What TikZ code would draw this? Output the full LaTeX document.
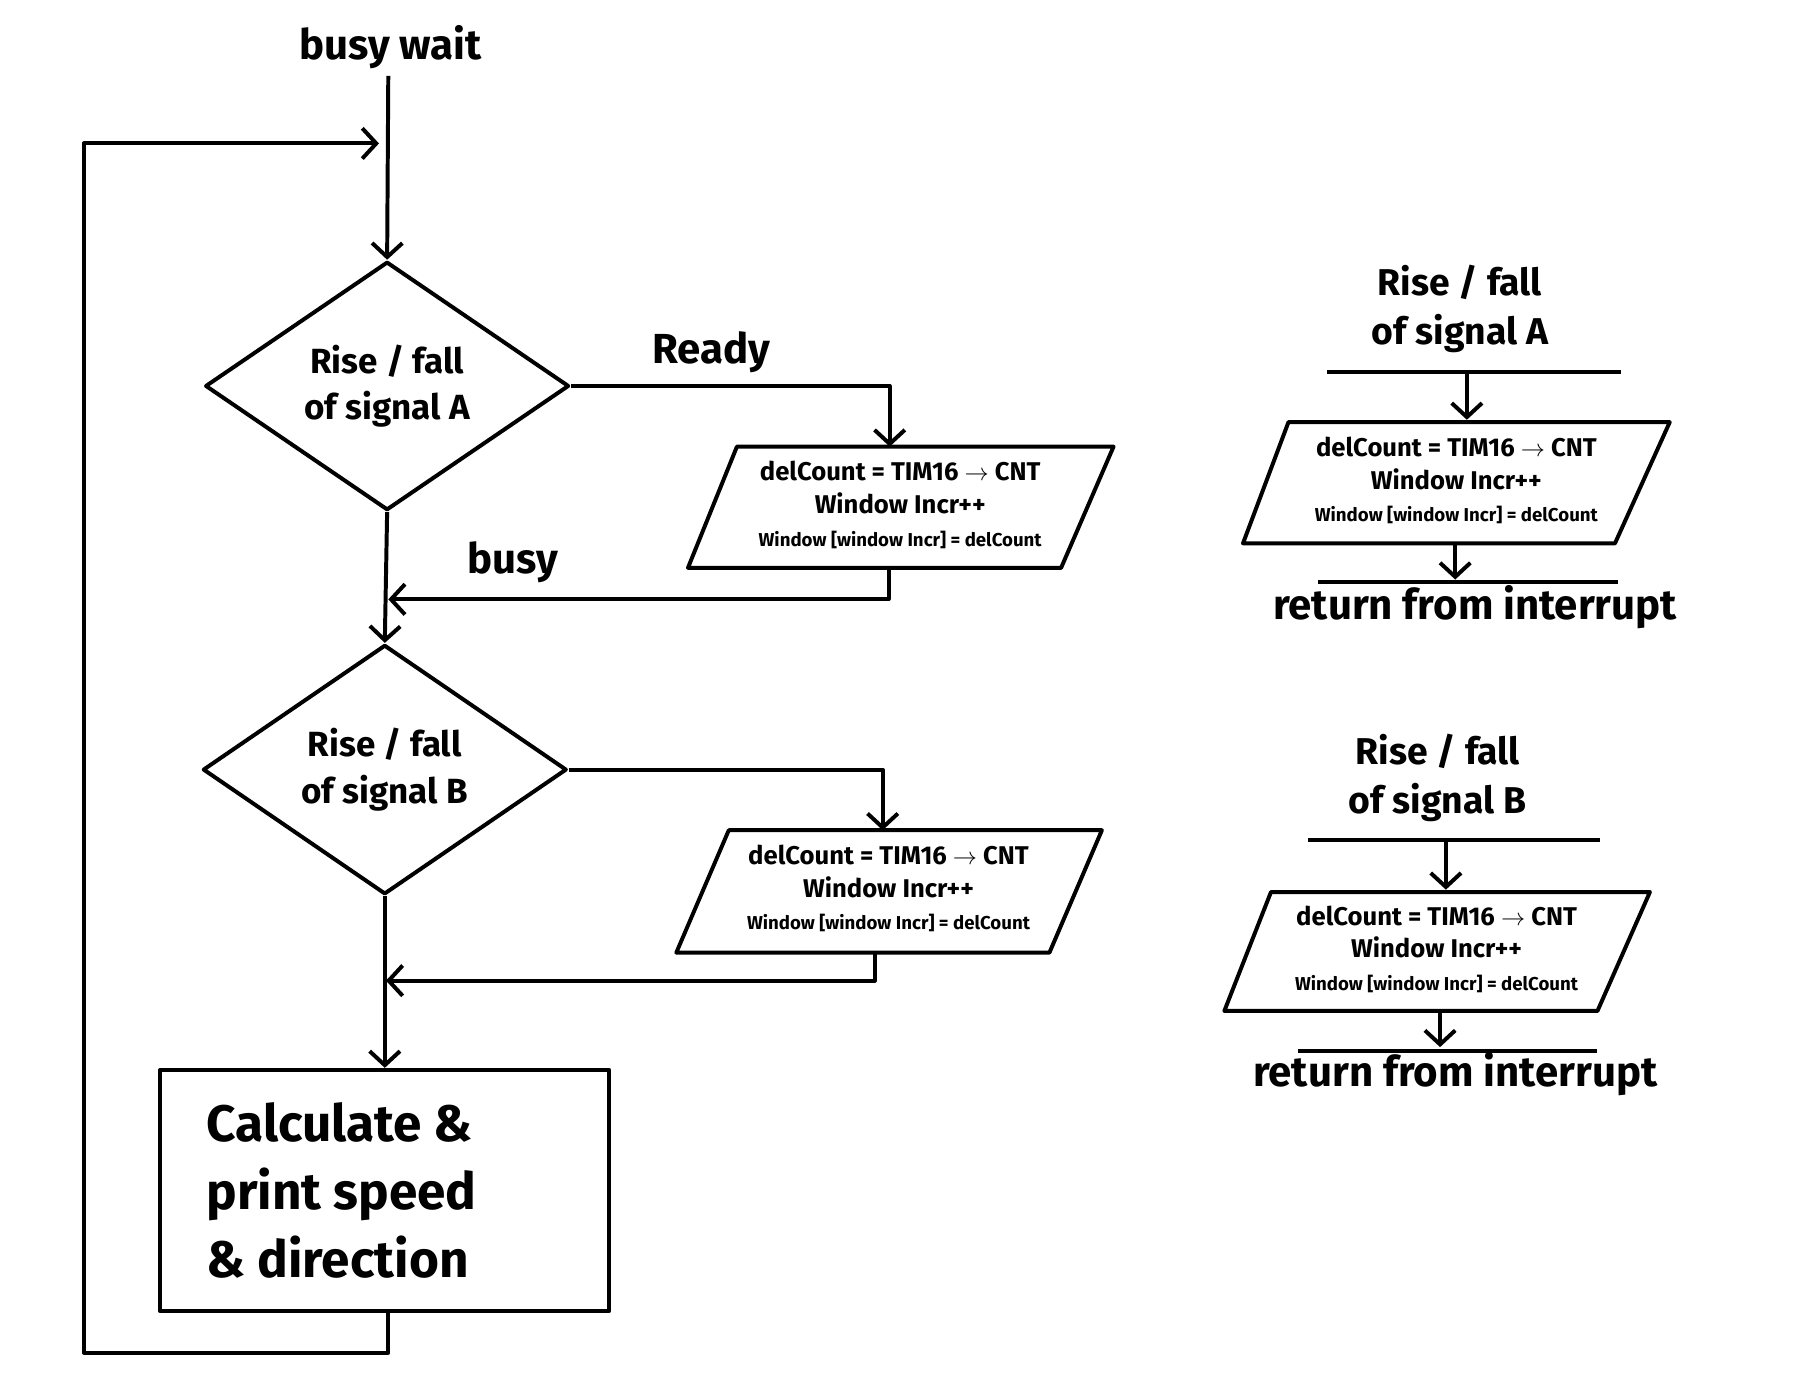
\documentclass[tikz,border=0pt]{standalone}
\usepackage{fontspec}
\setmainfont{Fira Sans}
\usetikzlibrary{arrows.meta,shapes.geometric}
\begin{document}
\begin{tikzpicture}[x=1pt,y=-1pt,line width=3.4pt,line join=round,
  arr/.style={-{Straight Barb[length=12pt,width=26pt,line width=3.4pt]}},
  dia/.style={draw,diamond,minimum width=312pt,minimum height=206pt,inner sep=0pt,align=center,font=\bfseries\fontsize{30}{40}\selectfont},
  lab/.style={font=\bfseries\fontsize{36}{40}\selectfont},
  ttl/.style={align=center,font=\bfseries\fontsize{32}{42}\selectfont},
  par/.style={align=center,font=\bfseries\fontsize{22}{28}\selectfont},
  ret/.style={font=\bfseries\fontsize{36}{40}\selectfont}]
\useasboundingbox (0,0) rectangle (1560,1195);
\newcommand{\ptext}{delCount = TIM16 $\to$ CNT\\Window Incr++\\{\fontsize{16}{18}\selectfont Window [window Incr] = delCount}}
% left flow
\node[lab] (bw) at (335,40) {busy wait};
\node[dia] (da) at (332,331) {Rise / fall\\of signal A};
\node[dia] (db) at (330,660) {Rise / fall\\of signal B};
\node[draw,minimum width=385pt,minimum height=207pt,inner sep=0pt] (calc) at (330,1021) {};
\node[align=left,anchor=west,font=\bfseries\fontsize{44}{58}\selectfont] (ct) at (172,1021) {Calculate \&\\print speed\\\& direction};
\coordinate (top) at (333,65);
\draw[arr] (top) -- (da.north);
\coordinate (cb) at (333,1125);
\coordinate (l1) at (333,1160);
\coordinate (l2) at (72,1160);
\coordinate (l3) at (72,123);
\draw[arr] (calc.south -| cb) -- (l1) -- (l2) -- (l3) -- (325,123);
% parallelogram A
\coordinate (pa1) at (632,383); \coordinate (pa2) at (955,383);
\coordinate (pa3) at (910,487); \coordinate (pa4) at (590,487);
\draw (pa1)--(pa2)--(pa3)--(pa4)--cycle;
\node[par] (pta) at (772,433) {\ptext};
\node[lab] (ready) at (610,302) {Ready};
\coordinate (ra) at (763,331);
\draw[arr] (da.east) -- (ra) -- (763,383);
\coordinate (ba1) at (762,487); \coordinate (ba2) at (762,514); \coordinate (ba3) at (333,514);
\draw[arr] (ba1) -- (ba2) -- (ba3);
\node[lab] (busy) at (440,482) {busy};
\draw[arr] (da.south) -- (db.north);
% parallelogram B
\coordinate (pb1) at (625,712); \coordinate (pb2) at (945,712);
\coordinate (pb3) at (900,817); \coordinate (pb4) at (580,817);
\draw (pb1)--(pb2)--(pb3)--(pb4)--cycle;
\node[par] (ptb) at (762,762) {\ptext};
\coordinate (rb) at (757,660);
\draw[arr] (db.east) -- (rb) -- (757,712);
\coordinate (bb1) at (750,817); \coordinate (bb2) at (750,841); \coordinate (bb3) at (331,841);
\draw[arr] (bb1) -- (bb2) -- (bb3);
\draw[arr] (db.south) -- (calc.north -| db.south);
% right A
\node[ttl] (ta) at (1252,265) {Rise / fall\\of signal A};
\draw (1138,319) coordinate (ra1) -- (1390,319) coordinate (ra2);
\draw[arr] (1258,319) coordinate (ra3) -- (1258,360) coordinate (ra4);
\coordinate (qa1) at (1105,362); \coordinate (qa2) at (1432,362);
\coordinate (qa3) at (1385,466); \coordinate (qa4) at (1066,466);
\draw (qa1)--(qa2)--(qa3)--(qa4)--cycle;
\node[par] (qta) at (1249,412) {\ptext};
\draw[arr] (1248,466) coordinate (ra5) -- (1248,497) coordinate (ra6);
\draw (1130,499) coordinate (ra7) -- (1388,499) coordinate (ra8);
\node[ret] (rta) at (1265,521) {return from interrupt};
% right B
\node[ttl] (tb) at (1233,667) {Rise / fall\\of signal B};
\draw (1122,720) coordinate (rb1) -- (1372,720) coordinate (rb2);
\draw[arr] (1240,720) coordinate (rb3) -- (1240,763) coordinate (rb4);
\coordinate (qb1) at (1090,765); \coordinate (qb2) at (1415,765);
\coordinate (qb3) at (1370,867); \coordinate (qb4) at (1050,867);
\draw (qb1)--(qb2)--(qb3)--(qb4)--cycle;
\node[par] (qtb) at (1232,814) {\ptext};
\draw[arr] (1235,867) coordinate (rb5) -- (1235,898) coordinate (rb6);
\draw (1113,901) coordinate (rb7) -- (1370,901) coordinate (rb8);
\node[ret] (rtb) at (1248,921) {return from interrupt};
\end{tikzpicture}
\end{document}
